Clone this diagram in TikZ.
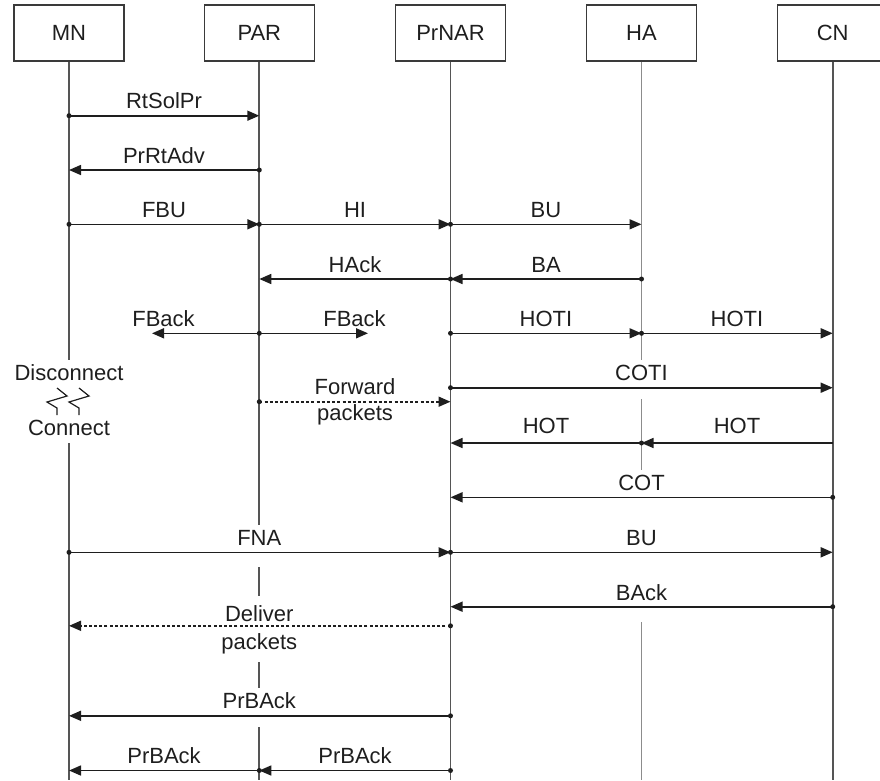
\documentclass[tikz,border=0pt]{standalone}
\usepackage{fontspec}
\setmainfont{Liberation Sans}
\usetikzlibrary{arrows.meta}
\definecolor{ink}{HTML}{1E1E1E}
\definecolor{lifegray}{HTML}{555555}
\definecolor{lightlife}{HTML}{8C8C8C}
\definecolor{boxline}{HTML}{3A3A3A}
\begin{document}
\begin{tikzpicture}[x=1pt,y=-1pt,
  every node/.style={font=\fontsize{22}{26}\selectfont, text=ink},
  actor/.style={draw=boxline, line width=1.5pt, minimum width=110pt, minimum height=56pt, inner sep=0pt},
  life/.style={draw=lifegray, line width=1.7pt},
  halife/.style={draw=lightlife, line width=1.7pt},
  msg/.style={draw=ink, line width=1.6pt, -{Triangle[length=12pt,width=10pt]}},
  dashmsg/.style={msg, dash pattern=on 3pt off 2.2pt},
  lbl/.style={anchor=base, inner sep=0pt},
  zig/.style={draw=ink, line width=1.2pt},
]
\useasboundingbox (0,0) rectangle (880,780);
\clip (0,0) rectangle (880,780);

% participants
\node[actor] (MN)    at (69,33)    {MN};
\node[actor] (PAR)   at (259.3,33) {PAR};
\node[actor] (PrNAR) at (450.5,33) {PrNAR};
\node[actor] (HA)    at (641.5,33) {HA};
\node[actor] (CN)    at (832.7,33) {CN};

% lifelines (interrupted where labels sit on them)
\draw[life] (MN.south) -- (MN |- 0,360);
\draw[life] (MN |- 0,443) -- (MN |- 0,780);
\draw[life] (PAR.south) -- (PAR |- 0,525);
\draw[life] (PAR |- 0,567) -- (PAR |- 0,596);
\draw[life] (PAR |- 0,662) -- (PAR |- 0,688);
\draw[life] (PAR |- 0,727) -- (PAR |- 0,780);
\draw[life] (PrNAR.south) -- (PrNAR |- 0,780);
\draw[halife] (HA.south) -- (HA |- 0,360);
\draw[halife] (HA |- 0,399) -- (HA |- 0,470);
\draw[halife] (HA |- 0,622) -- (HA |- 0,780);
\draw[life] (CN.south) -- (CN |- 0,780);

% message rows
\coordinate (r1)  at (0,115.7);
\coordinate (r2)  at (0,170);
\coordinate (r3)  at (0,224.3);
\coordinate (r4)  at (0,279);
\coordinate (r5)  at (0,333.3);
\coordinate (r6)  at (0,387.7);
\coordinate (r6b) at (0,401.7);
\coordinate (r7)  at (0,443);
\coordinate (r8)  at (0,497.3);
\coordinate (r9)  at (0,552.3);
\coordinate (r10) at (0,606.7);
\coordinate (r10b) at (0,625.8);
\coordinate (r11) at (0,715.8);
\coordinate (r12) at (0,770.5);
\coordinate (fbl) at (152,333.3);
\coordinate (fbr) at (368,333.3);

% RtSolPr / PrRtAdv
\draw[msg] (MN |- r1) -- (PAR |- r1);
\node[lbl] (tRtSolPr) at (164,108.5) {RtSolPr};
\draw[msg] (PAR |- r2) -- (MN |- r2);
\node[lbl] (tPrRtAdv) at (164,163) {PrRtAdv};

% FBU, HI, BU
\draw[msg] (MN |- r3) -- (PAR |- r3);
\node[lbl] (tFBU) at (164,217.3) {FBU};
\draw[msg] (PAR |- r3) -- (PrNAR |- r3);
\node[lbl] (tHI) at (355,217.3) {HI};
\draw[msg] (PrNAR |- r3) -- (HA |- r3);
\node[lbl] (tBU1) at (546,217.3) {BU};

% HAck, BA
\draw[msg] (PrNAR |- r4) -- (PAR |- r4);
\node[lbl] (tHAck) at (355,272) {HAck};
\draw[msg] (HA |- r4) -- (PrNAR |- r4);
\node[lbl] (tBA) at (546,272) {BA};

% FBack, HOTI
\draw[msg] (PAR |- r5) -- (fbl);
\node[lbl] (tFBackL) at (163.5,326) {FBack};
\draw[msg] (PAR |- r5) -- (fbr);
\node[lbl] (tFBackR) at (354.5,326) {FBack};
\draw[msg] (PrNAR |- r5) -- (HA |- r5);
\node[lbl] (tHOTI1) at (546,326) {HOTI};
\draw[msg] (HA |- r5) -- (CN |- r5);
\node[lbl] (tHOTI2) at (737,326) {HOTI};

% COTI, forwarded packets
\draw[msg] (PrNAR |- r6) -- (CN |- r6);
\node[lbl] (tCOTI) at (641.5,380.7) {COTI};
\draw[dashmsg] (PAR |- r6b) -- (PrNAR |- r6b);
\node[lbl] (tFwd1) at (355,394) {Forward};
\node[lbl] (tFwd2) at (355,420.7) {packets};

% link break at MN
\node[lbl] (tDisc) at (69,380) {Disconnect};
\node[lbl] (tConn) at (69,435) {Connect};
\draw[zig] (57,388) -- (67,396) -- (47,402) -- (57,408) -- (57,415);
\draw[zig] (79,388) -- (89,396) -- (69,402) -- (79,408) -- (79,415);

% HOT
\draw[msg] (CN |- r7) -- (HA |- r7);
\node[lbl] (tHOT2) at (737,433.3) {HOT};
\draw[msg] (HA |- r7) -- (PrNAR |- r7);
\node[lbl] (tHOT1) at (546,433.3) {HOT};

% COT
\draw[msg] (CN |- r8) -- (PrNAR |- r8);
\node[lbl] (tCOT) at (641.5,490) {COT};

% FNA, BU
\draw[msg] (MN |- r9) -- (PrNAR |- r9);
\node[lbl] (tFNA) at (259.3,545) {FNA};
\draw[msg] (PrNAR |- r9) -- (CN |- r9);
\node[lbl] (tBU2) at (641.5,545) {BU};

% BAck
\draw[msg] (CN |- r10) -- (PrNAR |- r10);
\node[lbl] (tBAck) at (641.5,600) {BAck};

% delivered packets
\draw[dashmsg] (PrNAR |- r10b) -- (MN |- r10b);
\node[lbl] (tDel1) at (259.3,621) {Deliver};
\node[lbl] (tDel2) at (259.3,649) {packets};

% PrBAck
\draw[msg] (PrNAR |- r11) -- (MN |- r11);
\node[lbl] (tPrBAck) at (259.3,708.3) {PrBAck};
\draw[msg] (PrNAR |- r12) -- (PAR |- r12);
\node[lbl] (tPrBAckR) at (355,763) {PrBAck};
\draw[msg] (PAR |- r12) -- (MN |- r12);
\node[lbl] (tPrBAckL) at (164,763) {PrBAck};

% sending points
\foreach \n/\r in {MN/r1, PAR/r2, MN/r3, PAR/r3, PrNAR/r3, PrNAR/r4, HA/r4,
                   PAR/r5, PrNAR/r5, HA/r5, PrNAR/r6, PAR/r6b, HA/r7, CN/r8,
                   MN/r9, PrNAR/r9, CN/r10, PrNAR/r10b, PrNAR/r11, PrNAR/r12, PAR/r12}
  \fill[ink] (\n |- \r) circle[radius=2.5pt];
\end{tikzpicture}
\end{document}
